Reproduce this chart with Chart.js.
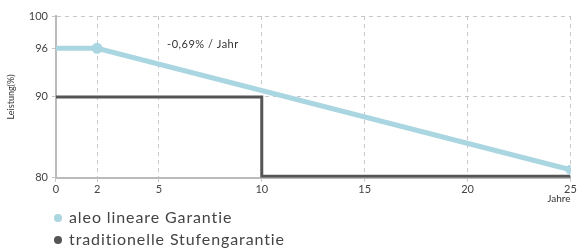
<!DOCTYPE html>
<html><head><meta charset="utf-8">
<script src="https://cdn.jsdelivr.net/npm/chart.js@4/dist/chart.umd.min.js"></script>
<style>html,body{margin:0;padding:0;background:#fff}#wrap{width:578px;height:249px}</style>
</head><body><div id="wrap"><canvas id="c" width="578" height="249"></canvas></div>
<script>
const seriesNames = ['aleo lineare Garantie', 'traditionelle Stufengarantie'];
const linearYears = [0, 2, 25];
const linearValues = [96, 96, 81.0];
const stepYears = [0, 10, 10, 25];
const stepValues = [90, 90, 80.2, 80.2];
const xTicks = [0, 2, 5, 10, 15, 20, 25];
const yTicks = [80, 90, 96, 100];
const yGridShown = [90, 100];
const annotationText = '-0,69% / Jahr';
const yTitle = 'Leistung(%)';
const xTitle = 'Jahre';

const colors = ['#a9d6e0', '#555555'];
const FONT = 'Lato, "Open Sans", sans-serif';

const annotPlugin = {
  id: 'annot',
  afterDatasetsDraw(chart) {
    const ctx = chart.ctx, xs = chart.scales.x, ys = chart.scales.y;
    ctx.save();
    ctx.font = '11px ' + FONT;
    ctx.letterSpacing = '0.5px';
    ctx.fillStyle = '#333';
    ctx.textAlign = 'left';
    ctx.textBaseline = 'middle';
    ctx.fillText(annotationText, xs.getPixelForValue(5.4), ys.getPixelForValue(96.5));
    // legend
    ctx.font = '16px ' + FONT;
    ctx.letterSpacing = '0.9px';
    seriesNames.forEach((n, i) => {
      const y = 218 + i * 22;
      ctx.beginPath();
      ctx.fillStyle = colors[i];
      ctx.arc(58, y, 4, 0, Math.PI * 2);
      ctx.fill();
      ctx.fillStyle = '#444';
      ctx.fillText(n, 69, y);
    });
    ctx.restore();
  }
};

new Chart(document.getElementById('c'), {
  type: 'line',
  data: {
    datasets: [
      { label: seriesNames[0], data: linearYears.map((x, i) => ({x, y: linearValues[i]})),
        borderColor: colors[0], backgroundColor: colors[0], borderWidth: 5,
        pointRadius: [0, 3, 2.5], pointHoverRadius: 0, tension: 0, borderCapStyle: 'round' },
      { label: seriesNames[1], data: stepYears.map((x, i) => ({x, y: stepValues[i]})),
        borderColor: colors[1], backgroundColor: colors[1], borderWidth: 3,
        pointRadius: 0, tension: 0 }
    ]
  },
  options: {
    responsive: false, animation: false,
    layout: { padding: { left: 6, right: 7, top: 16, bottom: 44 } },
    plugins: { legend: { display: false }, tooltip: { enabled: false } },
    scales: {
      x: {
        type: 'linear', min: 0, max: 25,
        afterBuildTicks(s) { s.ticks = xTicks.map(v => ({value: v})); },
        ticks: { color: '#444', font: { size: 11, family: FONT }, padding: 1, maxRotation: 0, autoSkip: false },
        grid: { color: ctx => ctx.tick && ctx.tick.value === 0 ? 'rgba(0,0,0,0)' : '#c8c8c8',
                tickColor: '#c8c8c8', tickLength: 4, lineWidth: 1 },
        border: { color: '#bbbbbb', width: 2, dash: [4, 4] },
        title: { display: true, text: xTitle, align: 'end', color: '#333', font: { size: 10, family: FONT }, padding: { top: -4, bottom: 0 } }
      },
      y: {
        min: 80, max: 100,
        afterBuildTicks(s) { s.ticks = yTicks.map(v => ({value: v})); },
        ticks: { color: '#444', font: { size: 11, family: FONT }, padding: 4, autoSkip: false },
        grid: { color: ctx => ctx.tick && yGridShown.includes(ctx.tick.value) ? '#c8c8c8' : 'rgba(0,0,0,0)',
                tickColor: '#c8c8c8', tickLength: 4, lineWidth: 1 },
        border: { color: '#bbbbbb', width: 2, dash: [4, 4] },
        title: { display: true, text: yTitle, color: '#333', font: { size: 9, family: FONT }, padding: { top: 0, bottom: 8 } }
      }
    }
  },
  plugins: [annotPlugin]
});
</script>
</body></html>
